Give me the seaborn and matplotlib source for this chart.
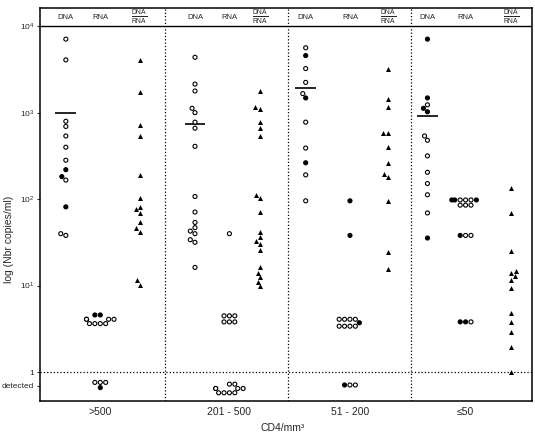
import matplotlib
matplotlib.use("Agg")
import numpy as np
import pandas as pd
import matplotlib.pyplot as plt
import seaborn as sns

# CD4 groups and read-off values (log10 copies/ml)
groups = [">500", "201 - 500", "51 - 200", "\u226450"]

dna_open = [
    [3.85, 3.61, 2.90, 2.84, 2.73, 2.60, 2.45, 2.22, 1.60, 1.58],
    [3.64, 3.33, 3.25, 3.05, 3.00, 2.89, 2.82, 2.61, 2.03, 1.85, 1.73, 1.67, 1.63, 1.60, 1.53, 1.50, 1.21],
    [3.75, 3.51, 3.35, 3.22, 2.89, 2.59, 2.28, 1.98],
    [3.09, 2.73, 2.68, 2.50, 2.31, 2.18, 2.05, 1.84],
]
dna_filled = [
    [2.34, 2.26, 1.91],
    [],
    [3.66, 3.17, 2.42],
    [3.85, 3.17, 3.05, 3.01, 1.55],
]
dna_median = [3.0, 2.87, 3.28, 2.96]

rna_open = [
    [0.61, 0.61, 0.61, 0.61, 0.56, 0.56, 0.56, 0.56],
    [1.60, 0.65, 0.65, 0.65, 0.58, 0.58, 0.58],
    [0.61, 0.61, 0.61, 0.61, 0.53, 0.53, 0.53, 0.53],
    [1.99, 1.99, 1.99, 1.93, 1.93, 1.93, 1.58, 1.58, 0.58],
]
rna_filled = [
    [0.66, 0.66],
    [],
    [1.98, 1.58, 0.57],
    [1.99, 1.99, 1.99, 1.58, 0.58, 0.58],
]
# not detected (drawn below the "1" line)
nd_open = [
    [-0.12, -0.12, -0.12],
    [-0.14, -0.14, -0.19, -0.19, -0.19, -0.19, -0.24, -0.24, -0.24, -0.24],
    [-0.15, -0.15],
    [],
]
nd_filled = [
    [-0.18],
    [],
    [-0.15],
    [],
]

ratio = [
    [3.61, 3.24, 2.86, 2.73, 2.28, 2.01, 1.91, 1.88, 1.84, 1.73, 1.66, 1.62, 1.06, 1.01],
    [3.25, 3.06, 3.04, 2.89, 2.82, 2.73, 2.05, 2.01, 1.85, 1.62, 1.56, 1.52, 1.48, 1.41, 1.21, 1.15, 1.10, 1.04, 0.99],
    [3.51, 3.16, 3.06, 2.77, 2.76, 2.60, 2.42, 2.29, 2.26, 1.98, 1.39, 1.19],
    [2.13, 1.84, 1.40, 1.17, 1.15, 1.11, 1.07, 0.97, 0.68, 0.58, 0.46, 0.29, 0.0],
]

# column centres inside each group (DNA, RNA, DNA/RNA)
col_off = [[0.19, 0.47, 0.79], [0.24, 0.52, 0.77], [0.14, 0.50, 0.81], [0.13, 0.44, 0.81]]

rows = []
for g in range(4):
    xd, xr, xq = [g + o for o in col_off[g]]
    for v in dna_open[g]:
        rows.append((xd, v, "open"))
    for v in dna_filled[g]:
        rows.append((xd, v, "filled"))
    for v in rna_open[g] + nd_open[g]:
        rows.append((xr, v, "open"))
    for v in rna_filled[g] + nd_filled[g]:
        rows.append((xr, v, "filled"))
circ = pd.DataFrame(rows, columns=["x", "v", "fill"])
tri = pd.DataFrame([(g + col_off[g][2], v) for g in range(4) for v in ratio[g]],
                   columns=["x", "v"])

sns.set_style("white")
plt.rcParams["font.family"] = ["Liberation Sans", "DejaVu Sans"]
plt.rcParams["mathtext.fontset"] = "custom"
plt.rcParams["mathtext.rm"] = "Liberation Sans"
plt.rcParams["mathtext.it"] = "Liberation Sans"

fig = plt.figure(figsize=(5.35, 4.34), dpi=100)
ax = fig.add_axes([40 / 535, 33 / 434, 492 / 535, 393 / 434])

sns.swarmplot(data=circ, x="x", y="v", hue="fill", orient="x", native_scale=True,
              palette={"open": "white", "filled": "black"}, size=2.9,
              edgecolor="black", linewidth=0.8, legend=False, ax=ax)
sns.swarmplot(data=tri, x="x", y="v", orient="x", native_scale=True, color="black",
              marker="^", size=3.6, linewidth=0, legend=False, ax=ax)

# median bars on DNA columns
for g in range(4):
    xd = g + col_off[g][0]
    ax.hlines(dna_median[g], xd - 0.085, xd + 0.085, color="black", lw=1.2)

# group separators, "1" line and header
for xv in [1, 2, 3]:
    ax.axvline(xv, color="black", ls=":", lw=0.9)
ax.axhline(0, color="black", ls=":", lw=0.9)
ax.axhline(4.0, color="black", lw=1.0)
for g in range(4):
    xd, xr, xq = [g + o for o in col_off[g]]
    ax.text(xd, 4.1, "DNA", ha="center", va="center", fontsize=5.5)
    ax.text(xr, 4.1, "RNA", ha="center", va="center", fontsize=5.5)
    ax.text(xq, 4.11, r"$\frac{\mathrm{DNA}}{\mathrm{RNA}}$", ha="center", va="center", fontsize=7)

ax.set_xlim(-0.02, 3.98)
ax.set_ylim(-0.335, 4.21)
ax.set_xticks([g + col_off[g][1] for g in range(4)])
ax.set_xticklabels(groups, fontsize=7.5)
ax.set_yticks([-0.16, 0, 1, 2, 3, 4])
ax.set_yticklabels(["detected", "1", r"$10^1$", r"$10^2$", r"$10^3$", r"$10^4$"], fontsize=6)
ax.tick_params(axis="x", length=0, pad=4)
ax.tick_params(axis="y", length=2, pad=2, left=True)

ax.set_xlabel("CD4/mm\u00b3", fontsize=7.5)
ax.xaxis.set_label_coords(0.494, -0.055)
ax.set_ylabel("log (Nbr copies/ml)", fontsize=7.5)
ax.yaxis.set_label_coords(-0.052, 0.41)

for s in ax.spines.values():
    s.set_visible(True)
    s.set_color("black")
    s.set_linewidth(1.1)

fig.savefig("out.png", dpi=100)
